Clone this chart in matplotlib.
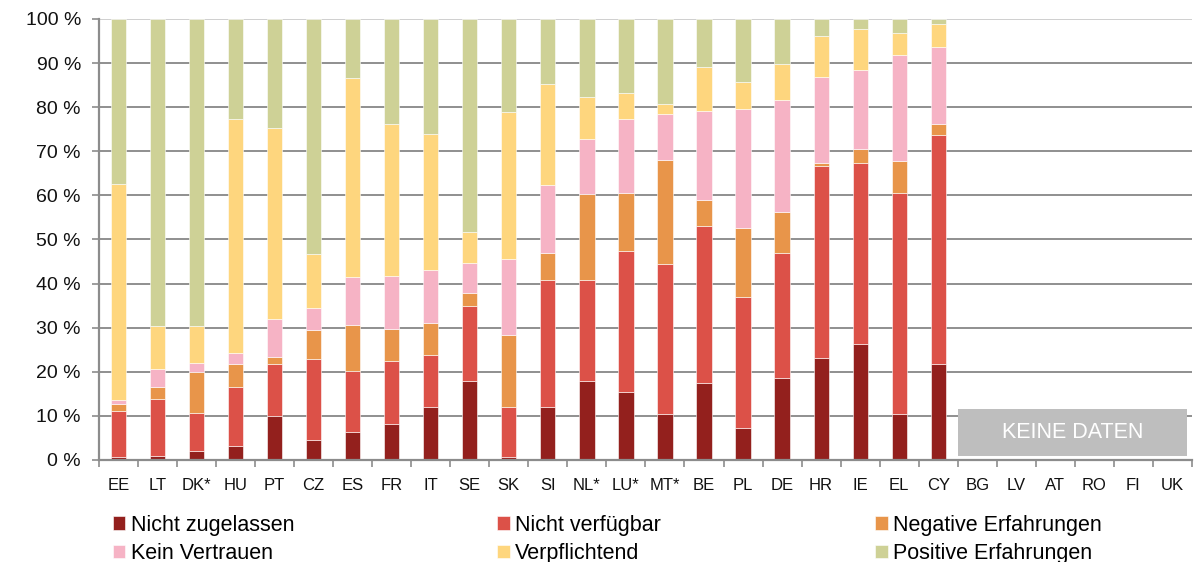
import numpy as np
import matplotlib.pyplot as plt
from matplotlib.patches import Rectangle

plt.rcParams['font.family'] = ['Liberation Sans', 'DejaVu Sans']

# Countries (the last six have no data)
countries = ['EE', 'LT', 'DK*', 'HU', 'PT', 'CZ', 'ES', 'FR', 'IT', 'SE', 'SK', 'SI',
             'NL*', 'LU*', 'MT*', 'BE', 'PL', 'DE', 'HR', 'IE', 'EL', 'CY',
             'BG', 'LV', 'AT', 'RO', 'FI', 'UK']

# shares in % per category (for the 22 countries with data)
nicht_zugelassen = [0.7, 1.0, 2.0, 3.2, 9.9, 4.6, 6.4, 8.2, 12.1, 17.9, 0.7, 12.1,
                    17.9, 15.4, 10.4, 17.4, 7.3, 18.6, 23.1, 26.3, 10.4, 21.7]
nicht_verfuegbar = [10.4, 12.9, 8.7, 13.3, 11.9, 18.4, 13.7, 14.3, 11.8, 17.0, 11.4, 28.8,
                    23.0, 32.1, 34.1, 35.6, 29.7, 28.3, 43.5, 41.1, 50.1, 52.0]
negative_erfahrungen = [1.6, 2.6, 9.3, 5.3, 1.5, 6.5, 10.5, 7.3, 7.2, 2.9, 16.3, 6.1,
                        19.4, 13.1, 23.6, 5.9, 15.7, 9.3, 0.7, 3.1, 7.2, 2.4]
kein_vertrauen = [0.8, 4.2, 2.1, 2.4, 8.6, 5.0, 10.9, 11.9, 12.0, 6.8, 17.2, 15.4,
                  12.4, 16.8, 10.3, 20.2, 27.0, 25.4, 19.5, 17.9, 24.1, 17.5]
verpflichtend = [49.0, 9.7, 8.2, 53.2, 43.3, 12.3, 45.2, 34.4, 30.8, 7.0, 33.3, 22.9,
                 9.6, 5.9, 2.3, 10.1, 5.9, 8.3, 9.3, 9.3, 5.0, 5.3]
positive_erfahrungen = [37.5, 69.6, 69.7, 22.6, 24.8, 53.2, 13.3, 23.9, 26.1, 48.4, 21.1, 14.7,
                        17.7, 16.7, 19.3, 10.8, 14.4, 10.1, 3.9, 2.3, 3.2, 1.1]

series = [
    ('Nicht zugelassen', nicht_zugelassen, '#93201D'),
    ('Nicht verfügbar', nicht_verfuegbar, '#DC5148'),
    ('Negative Erfahrungen', negative_erfahrungen, '#E8954A'),
    ('Kein Vertrauen', kein_vertrauen, '#F6B3C5'),
    ('Verpflichtend', verpflichtend, '#FED67E'),
    ('Positive Erfahrungen', positive_erfahrungen, '#CED196'),
]

fig = plt.figure(figsize=(12.04, 5.62), dpi=100)
ax = fig.add_axes([0.0822, 0.1815, 0.9078, 0.7847])

n_data = len(nicht_zugelassen)
x = np.arange(n_data)
bottom = np.zeros(n_data)
handles = []
for name, vals, col in series:
    vals = np.array(vals)
    h = ax.bar(x, vals, 0.39, bottom=bottom, color=col, edgecolor='white',
               linewidth=0.4, label=name, zorder=2)
    handles.append(h)
    bottom += vals

ax.set_xlim(-0.5, len(countries) - 0.5)
ax.set_ylim(0, 100)

# axes styling
axis_col = '#8c8c8c'
for s in ['top', 'right']:
    ax.spines[s].set_visible(False)
for s in ['left', 'bottom']:
    ax.spines[s].set_color(axis_col)
    ax.spines[s].set_linewidth(1.6)
    ax.spines[s].set_zorder(3)

ax.set_yticks(np.arange(0, 101, 10))
ax.set_yticklabels([f'{v} %' for v in range(0, 101, 10)], fontsize=14, color='#111111')
ax.yaxis.grid(True, color='#8f8f8f', linewidth=1.4, zorder=0)
ax.get_ygridlines()[-1].set_color('#cfcfcf')
ax.set_axisbelow(True)
ax.tick_params(axis='y', length=5, width=1.2, color=axis_col, pad=8)

ax.set_xticks(np.arange(len(countries)))
ax.set_xticklabels(countries, fontsize=12, color='#111111')
ax.set_xticks(np.arange(len(countries) + 1) - 0.5, minor=True)
ax.tick_params(axis='x', which='major', length=0, pad=13)
ax.tick_params(axis='x', which='minor', length=5, width=1.2, color=axis_col)

# no data box
ax.add_patch(Rectangle((0.786, 0.009), 0.2095, 0.1066, transform=ax.transAxes,
                       facecolor='#BEBEBE', edgecolor='none', zorder=4))
ax.text(0.786 + 0.2095 / 2, 0.009 + 0.1066 / 2, 'KEINE DATEN', transform=ax.transAxes,
        ha='center', va='center', color='white', fontsize=15.5, zorder=5)

# legend, three columns
cols_x = [0.0935, 0.4125, 0.7265]
for i, cx in enumerate(cols_x):
    hh = [handles[i], handles[i + 3]]
    fig.legend(hh, [h.get_label() for h in hh], loc='upper left',
               bbox_to_anchor=(cx, 0.084), frameon=False, fontsize=15.5,
               handlelength=0.6, handleheight=0.6, handletextpad=0.25,
               labelspacing=0.34, borderpad=0, borderaxespad=0)

fig.savefig('out.png', dpi=100)
